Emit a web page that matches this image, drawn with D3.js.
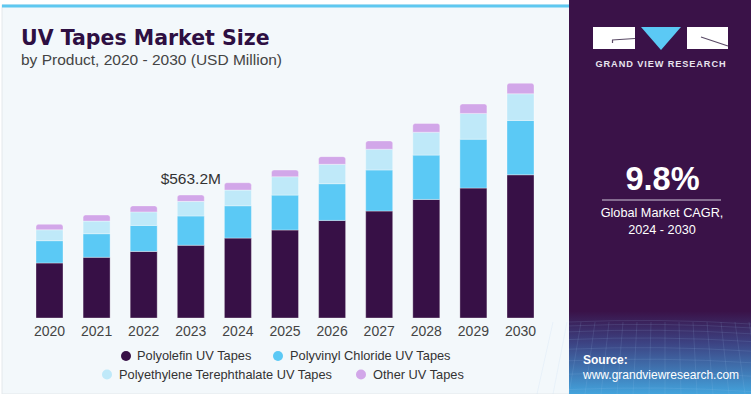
<!DOCTYPE html>
<html><head><meta charset="utf-8">
<script src="https://cdn.jsdelivr.net/npm/d3@7"></script>
<style>
html,body{margin:0;padding:0;background:#fff;}
svg{display:block;font-family:"Liberation Sans",Arial,sans-serif;}
</style></head>
<body><svg id="c" width="751" height="394"></svg>
<script>
const years = ["2020","2021","2022","2023","2024","2025","2026","2027","2028","2029","2030"];
const polyolefin = [252, 278, 305, 333.2, 366, 403, 447, 490, 543, 595, 656];
const pvc        = [102, 108, 119, 134, 148, 160, 168, 188, 203, 224, 249];
const pet        = [50, 58, 62, 67, 72, 84, 89, 95, 105, 118, 122];
const other      = [25, 27.5, 27.5, 29, 33.5, 30.5, 35, 38, 40, 43, 48];
const seriesNames = ["Polyolefin UV Tapes","Polyvinyl Chloride UV Tapes","Polyethylene Terephthalate UV Tapes","Other UV Tapes"];
const seriesColors = ["#371046","#5bc9f5","#bfe9f9","#d2a7e9"];
const annotation = {year:"2023", text:"$563.2M"};

const svg = d3.select("#c");
const defs = svg.append("defs");

// panels
svg.append("rect").attr("x",2).attr("y",5).attr("width",568).attr("height",389).attr("fill","#f3f8fb").attr("stroke","#dfe4e8").attr("stroke-width",0.8);
svg.append("rect").attr("x",2).attr("y",4.5).attr("width",568).attr("height",3).attr("fill","#5ec8f0");

// dark side panel
const g1 = defs.append("linearGradient").attr("id","sideg").attr("x1",0).attr("y1",0).attr("x2",0).attr("y2",1);
g1.append("stop").attr("offset","0").attr("stop-color","#3a1248");
g1.append("stop").attr("offset","0.79").attr("stop-color","#3a1248");
g1.append("stop").attr("offset","0.87").attr("stop-color","#3c4282");
g1.append("stop").attr("offset","1").attr("stop-color","#43a3dc");
svg.append("rect").attr("x",569).attr("y",0).attr("width",182).attr("height",394).attr("fill","url(#sideg)");
const grid = svg.append("g").attr("stroke","#9fc8ee").attr("stroke-opacity",0.22).attr("stroke-width",0.6).attr("fill","none");
for(let i=0;i<9;i++){ const yy=322+i*i*0.95+i*3; grid.append("path").attr("d",`M569,${yy} Q660,${yy-4} 751,${yy+2}`); }
for(let i=0;i<16;i++){ const xx=569+i*12; grid.append("line").attr("x1",xx+(i-8)*2).attr("y1",322).attr("x2",xx-(8-i)*4).attr("y2",394); }

// logo
const logo = svg.append("g");
logo.append("rect").attr("x",593).attr("y",27).attr("width",42).attr("height",22).attr("fill","#fff");
logo.append("path").attr("d","M612,40 L635,38.5").attr("stroke","#5a4a66").attr("stroke-width",1.2);
logo.append("path").attr("d","M612.5,40 L612.5,43").attr("stroke","#5a4a66").attr("stroke-width",1.2);
logo.append("path").attr("d","M641,27 L681,27 L661,50 Z").attr("fill","#5bc9f5");
logo.append("rect").attr("x",687).attr("y",27).attr("width",41).attr("height",22).attr("fill","#fff");
logo.append("path").attr("d","M701,37 L728,46").attr("stroke","#5a4a66").attr("stroke-width",1.2);
logo.append("text").attr("x",661).attr("y",66.5).attr("text-anchor","middle").attr("fill","#e8e4ee")
  .attr("font-size",9.2).attr("font-weight","bold").attr("letter-spacing",0.9).text("GRAND VIEW RESEARCH");

// CAGR
svg.append("text").attr("x",662.5).attr("y",190).attr("text-anchor","middle").attr("fill","#fff")
  .attr("font-size",32.5).attr("font-weight","bold").text("9.8%");
svg.append("line").attr("x1",602).attr("x2",721).attr("y1",200).attr("y2",200).attr("stroke","#cfc6d8").attr("stroke-width",1);
svg.append("text").attr("x",662).attr("y",217).attr("text-anchor","middle").attr("fill","#fff").attr("font-size",12.7).text("Global Market CAGR,");
svg.append("text").attr("x",662).attr("y",234).attr("text-anchor","middle").attr("fill","#fff").attr("font-size",12.7).text("2024 - 2030");
svg.append("text").attr("x",583).attr("y",364).attr("fill","#fff").attr("font-size",12).attr("font-weight","bold").text("Source:");
svg.append("text").attr("x",583).attr("y",379).attr("fill","#fff").attr("font-size",12).text("www.grandviewresearch.com");

// titles
svg.append("text").attr("x",21).attr("y",44.5).attr("fill","#2e0f42").attr("font-size",20.5)
  .attr("font-family","DejaVu Sans, sans-serif").attr("font-weight","bold").text("UV Tapes Market Size");
svg.append("text").attr("x",21).attr("y",65).attr("fill","#444").attr("font-size",15.5).text("by Product, 2020 - 2030 (USD Million)");

// chart
const x = d3.scaleBand().domain(years)
  .range([36 - 47.1*0.427, 36 + 47.1*10 + 27 + 47.1*0.427]).paddingInner(0.427).paddingOuter(0.427);
const y = d3.scaleLinear().domain([0,1200]).range([318,56]);

const table = years.map((yr,i)=>({year:yr, s0:polyolefin[i], s1:pvc[i], s2:pet[i], s3:other[i]}));
const stack = d3.stack().keys(["s0","s1","s2","s3"])(table);

const bars = svg.append("g");
stack.forEach((layer,li)=>{
  bars.selectAll(null).data(layer).enter().append("path")
    .attr("fill",seriesColors[li])
    .attr("stroke","#ffffff").attr("stroke-opacity",0.55).attr("stroke-width",0.6)
    .attr("d",d=>{
      const x0=x(d.data.year), w=x.bandwidth(), y0=y(d[0]), y1=y(d[1]);
      if(li===3){
        const r=2.5;
        return `M${x0},${y0} L${x0},${y1+r} Q${x0},${y1} ${x0+r},${y1} L${x0+w-r},${y1} Q${x0+w},${y1} ${x0+w},${y1+r} L${x0+w},${y0} Z`;
      }
      return `M${x0},${y0} L${x0},${y1} L${x0+w},${y1} L${x0+w},${y0} Z`;
    });
});

// annotation
const ai = years.indexOf(annotation.year);
const aTotal = polyolefin[ai]+pvc[ai]+pet[ai]+other[ai];
svg.append("text").attr("x",x(annotation.year)+x.bandwidth()/2).attr("y",y(aTotal)-11.5)
  .attr("text-anchor","middle").attr("fill","#333").attr("font-size",15.5).text(annotation.text);

// x axis
const ax = svg.append("g").attr("transform","translate(0,318)").call(d3.axisBottom(x).tickSize(0).tickPadding(8));
ax.select(".domain").remove();
ax.selectAll("text").attr("font-size",14).attr("fill","#444").attr("font-family","Liberation Sans, Arial, sans-serif");

// legend
const legendPos = [
  {cx:126, ty:356, tx:137},
  {cx:278, ty:356, tx:290},
  {cx:107, ty:374.5, tx:119},
  {cx:361, ty:374.5, tx:373}
];
const lg = svg.append("g");
seriesNames.forEach((n,i)=>{
  const p=legendPos[i];
  lg.append("circle").attr("cx",p.cx).attr("cy",p.ty).attr("r",5).attr("fill",seriesColors[i]);
  lg.append("text").attr("x",p.tx).attr("y",p.ty).attr("dy","0.35em").attr("font-size",12.8).attr("fill","#333").text(n);
});
</script></body></html>
